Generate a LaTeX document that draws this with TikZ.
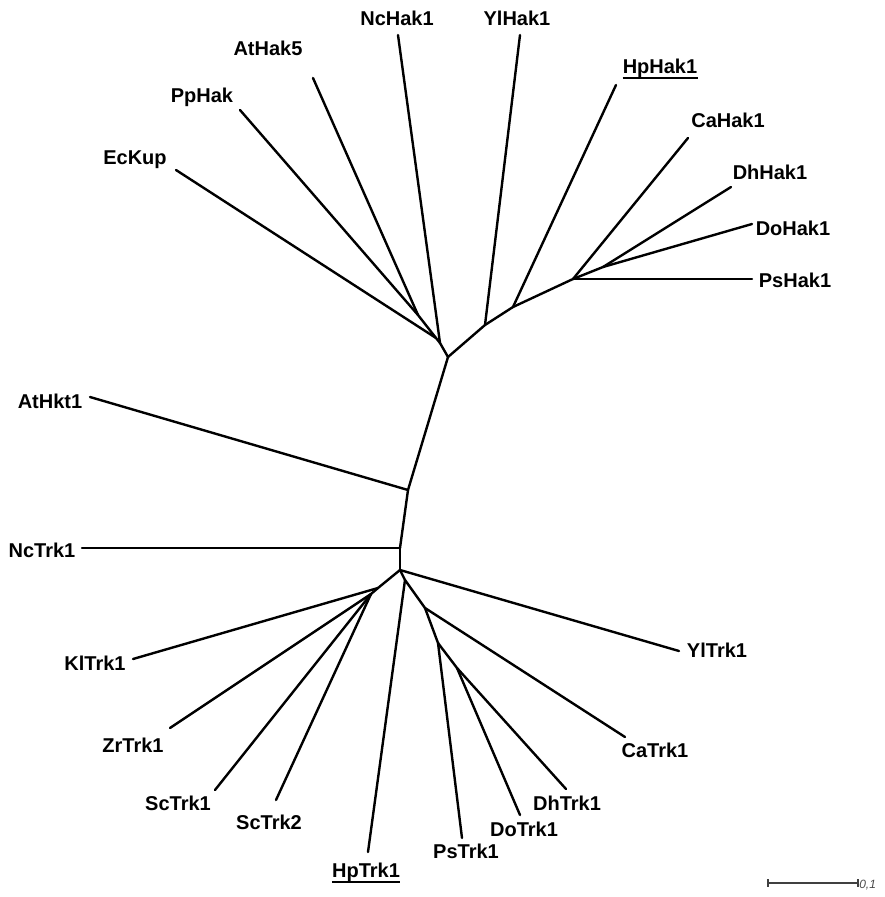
\documentclass[tikz,border=0pt]{standalone}
\usepackage{fontspec}
\setmainfont{Liberation Sans}
\begin{document}
\begin{tikzpicture}[x=0.75pt,y=-0.75pt,
  br/.style={line width=1.8pt,line cap=round,line join=round},
  lab/.style={inner sep=0pt,font=\bfseries\fontsize{15}{18}\selectfont},
  ul/.style={line width=1.6pt}]
\useasboundingbox (0,0) rectangle (885,897);
% internal nodes
\coordinate (A) at (448,357);
\coordinate (R) at (440,343);
\coordinate (Q) at (436,338);
\coordinate (P) at (418,315);
\coordinate (Y) at (485,325);
\coordinate (H) at (513,307);
\coordinate (C) at (573,279);
\coordinate (S) at (603,267);
\coordinate (B) at (408,490);
\coordinate (N) at (400,548);
\coordinate (D) at (400,570);
\coordinate (K1) at (378,588);
\coordinate (K2) at (371,594);
\coordinate (E) at (405,580);
\coordinate (F) at (425,608);
\coordinate (G) at (438,643);
\coordinate (T) at (457,668);
% leaf ends
\coordinate (lNcHak) at (398,35);
\coordinate (lYlHak) at (520,35);
\coordinate (lAtHak5) at (313,78);
\coordinate (lHpHak) at (616,85);
\coordinate (lPpHak) at (240,110);
\coordinate (lCaHak) at (688,138);
\coordinate (lEcKup) at (176,170);
\coordinate (lDhHak) at (731,187);
\coordinate (lDoHak) at (752,224);
\coordinate (lPsHak) at (752,279);
\coordinate (lAtHkt) at (90,397);
\coordinate (lNcTrk) at (82,548);
\coordinate (lKlTrk) at (133,659);
\coordinate (lYlTrk) at (679,651);
\coordinate (lZrTrk) at (170,728);
\coordinate (lCaTrk) at (625,737);
\coordinate (lScTrk1) at (215,790);
\coordinate (lScTrk2) at (276,800);
\coordinate (lDhTrk) at (566,789);
\coordinate (lDoTrk) at (520,815);
\coordinate (lPsTrk) at (462,838);
\coordinate (lHpTrk) at (368,852);
% labels
\node[lab] (tNcHak) at (397,18) {NcHak1};
\node[lab] (tYlHak) at (517,18) {YlHak1};
\node[lab] (tAtHak5) at (268,48) {AtHak5};
\node[lab] (tHpHak) at (660,68) {HpHak1};
\node[lab] (tPpHak) at (202,97) {PpHak};
\node[lab] (tCaHak) at (728,120) {CaHak1};
\node[lab] (tEcKup) at (135,160) {EcKup};
\node[lab] (tDhHak) at (770,172) {DhHak1};
\node[lab] (tDoHak) at (793,228) {DoHak1};
\node[lab] (tPsHak) at (795,280) {PsHak1};
\node[lab] (tAtHkt) at (50,401) {AtHkt1};
\node[lab] (tNcTrk) at (42,550) {NcTrk1};
\node[lab] (tKlTrk) at (95,663) {KlTrk1};
\node[lab] (tYlTrk) at (717,650) {YlTrk1};
\node[lab] (tZrTrk) at (133,745) {ZrTrk1};
\node[lab] (tCaTrk) at (655,750) {CaTrk1};
\node[lab] (tScTrk1) at (178,803) {ScTrk1};
\node[lab] (tScTrk2) at (269,822) {ScTrk2};
\node[lab] (tDhTrk) at (567,803) {DhTrk1};
\node[lab] (tDoTrk) at (524,829) {DoTrk1};
\node[lab] (tPsTrk) at (466,851) {PsTrk1};
\node[lab] (tHpTrk) at (366,872) {HpTrk1};
\draw[ul] ([yshift=-3.5pt]tHpHak.base west) -- ([yshift=-3.5pt]tHpHak.base east);
\draw[ul] ([yshift=-3.5pt]tHpTrk.base west) -- ([yshift=-3.5pt]tHpTrk.base east);
% branches
\draw[br] (P) -- (lPpHak);
\draw[br] (P) -- (lAtHak5);
\draw[br] (P) -- (Q);
\draw[br] (Q) -- (lEcKup);
\draw[br] (Q) -- (R);
\draw[br] (R) -- (lNcHak);
\draw[br] (R) -- (A);
\draw[br] (A) -- (Y);
\draw[br] (Y) -- (lYlHak);
\draw[br] (Y) -- (H);
\draw[br] (H) -- (lHpHak);
\draw[br] (H) -- (C);
\draw[br] (C) -- (lCaHak);
\draw[br] (C) -- (S);
\draw[br] (S) -- (lDhHak);
\draw[br] (S) -- (lDoHak);
\draw[br] (C) -- (lPsHak);
\draw[br] (A) -- (B);
\draw[br] (B) -- (lAtHkt);
\draw[br] (B) -- (N);
\draw[br] (N) -- (lNcTrk);
\draw[br] (N) -- (D);
\draw[br] (D) -- (lYlTrk);
\draw[br] (D) -- (K1);
\draw[br] (K1) -- (lKlTrk);
\draw[br] (K1) -- (K2);
\draw[br] (K2) -- (lZrTrk);
\draw[br] (K2) -- (lScTrk1);
\draw[br] (K2) -- (lScTrk2);
\draw[br] (D) -- (E);
\draw[br] (E) -- (lHpTrk);
\draw[br] (E) -- (F);
\draw[br] (F) -- (lCaTrk);
\draw[br] (F) -- (G);
\draw[br] (G) -- (lPsTrk);
\draw[br] (G) -- (T);
\draw[br] (T) -- (lDhTrk);
\draw[br] (T) -- (lDoTrk);
% scale bar
\coordinate (s1) at (768,883);
\coordinate (s2) at (858,883);
\draw[line width=1.1pt,black!75] (s1) -- (s2);
\draw[line width=1.1pt,black!75] ([yshift=3pt]s1) -- ([yshift=-3pt]s1);
\draw[line width=1.1pt,black!75] ([yshift=3pt]s2) -- ([yshift=-3pt]s2);
\node[inner sep=0pt,anchor=west,font=\itshape\fontsize{9}{10}\selectfont,text=black!70] (sl) at (859,885) {0,1};
\end{tikzpicture}
\end{document}
